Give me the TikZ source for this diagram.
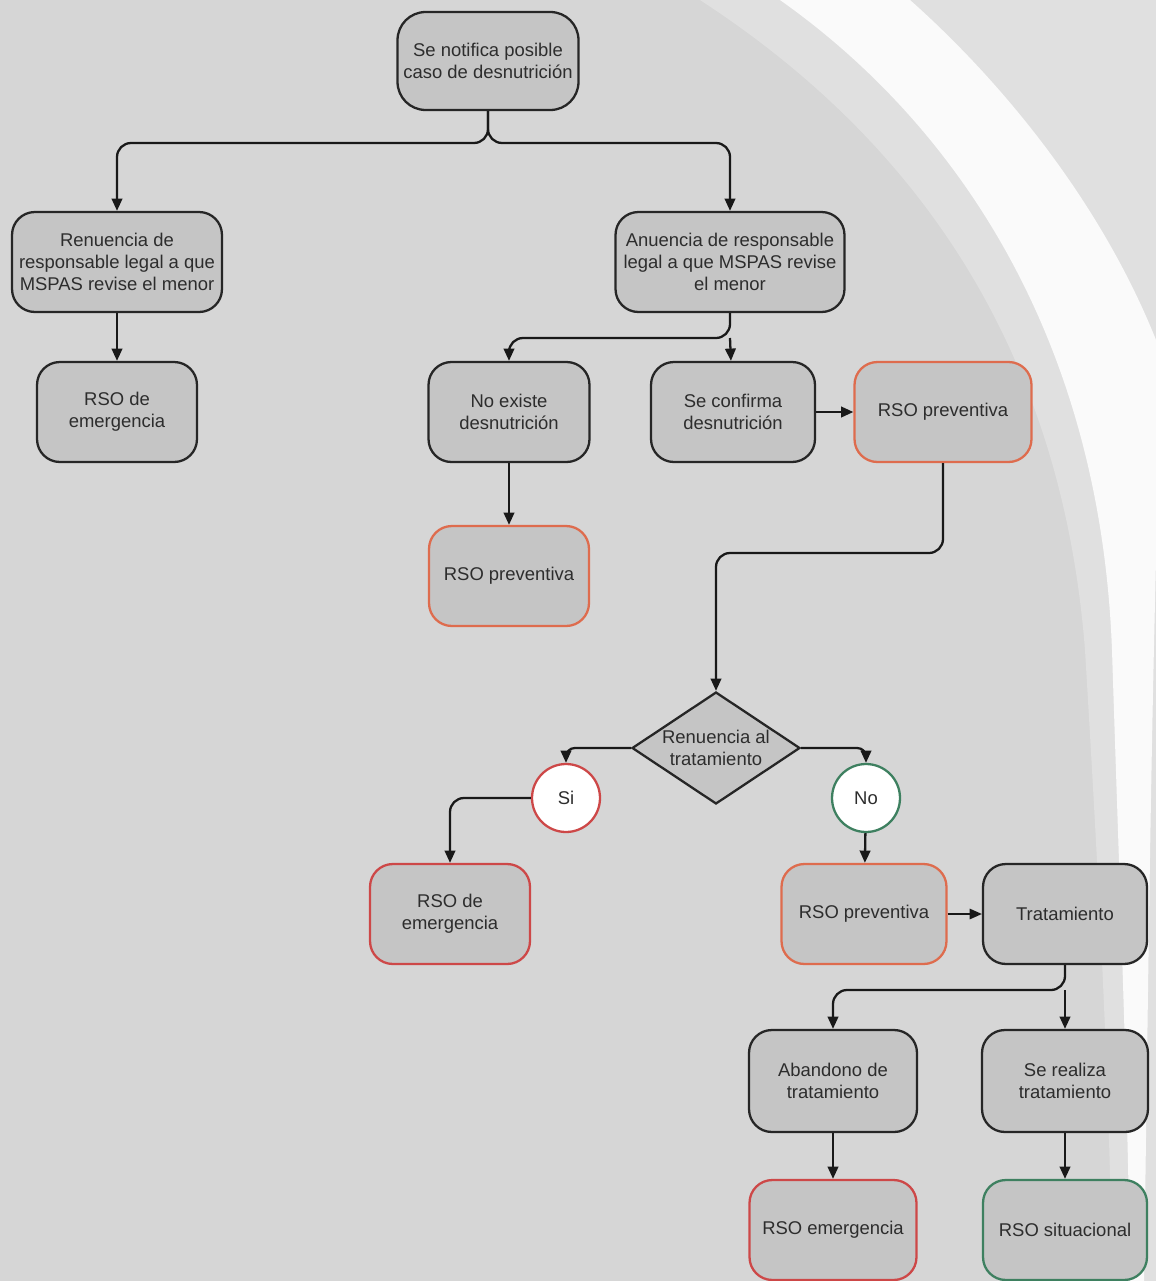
\documentclass[tikz,border=0pt]{standalone}
\usepackage{fontspec}
\setmainfont{Liberation Sans}
\usetikzlibrary{shapes.geometric,arrows.meta}

\definecolor{paper}{RGB}{214,214,214}
\definecolor{boxgray}{RGB}{197,197,197}
\definecolor{emred}{RGB}{205,72,72}
\definecolor{prevred}{RGB}{222,108,78}
\definecolor{sitgreen}{RGB}{62,128,96}
\definecolor{ink}{RGB}{45,45,45}

\tikzset{
  box/.style={draw=black!85, fill=boxgray, rounded corners=13pt, line width=1.3pt,
    align=center, text=ink, inner sep=2pt, minimum height=2cm,
    font=\fontsize{10.5}{12.3}\selectfont},
  prevbox/.style={box, draw=prevred},
  emerbox/.style={box, draw=emred},
  situbox/.style={box, draw=sitgreen},
  decision/.style={diamond, draw=black!85, fill=boxgray, line width=1.3pt, aspect=1.5,
    inner sep=-2pt, minimum width=3.36cm, minimum height=2.24cm, align=center,
    text=ink, font=\fontsize{10.5}{12.3}\selectfont},
  answer/.style={circle, fill=white, line width=1.3pt, minimum size=1.36cm,
    inner sep=0pt, text=ink, font=\fontsize{10.5}{12.3}\selectfont},
  flow/.style={->, line width=1.3pt, black!90, rounded corners=8pt},
  >={Triangle[length=7pt,width=6pt]}
}

\begin{document}
\begin{tikzpicture}[x=0.02cm, y=-0.02cm]
            % Paper
            \fill[paper] (0,0) rectangle (1156,1281);
            \fill[white, opacity=0.25] (700,0) .. controls (900,130) and (1060,330) .. (1085,650) .. controls (1100,900) and (1110,1100) .. (1112,1281) -- (1156,1281) -- (1156,0) -- cycle;
            \fill[white, opacity=0.85] (780,0) .. controls (950,120) and (1100,330) .. (1112,650) .. controls (1120,900) and (1128,1100) .. (1130,1281) -- (1144,1281) .. controls (1148,1000) and (1150,800) .. (1156,560) -- (1156,340) .. controls (1100,200) and (1000,80) .. (910,0) -- cycle;
            \useasboundingbox (0,0) rectangle (1156,1281);

            % Start
            \node[box, minimum width=3.62cm, minimum height=1.96cm, rounded corners=16pt] (notif) at (488,61) {Se notifica posible\\caso de desnutrición};

            % Responsable legal
            \node[box, minimum width=4.2cm] (renun) at (117,262) {Renuencia de\\responsable legal a que\\MSPAS revise el menor};
            \node[box, minimum width=3.2cm] (emer1) at (117,412) {RSO de\\emergencia};
            \node[box, minimum width=4.58cm] (anuen) at (730,262) {Anuencia de responsable\\legal a que MSPAS revise\\el menor};

            % Evaluacion
            \node[box, minimum width=3.22cm] (noexi) at (509,412) {No existe\\desnutrición};
            \node[box, minimum width=3.28cm] (confi) at (733,412) {Se confirma\\desnutrición};
            \node[prevbox, minimum width=3.54cm] (prev1) at (943,412) {RSO preventiva};
            \node[prevbox, minimum width=3.2cm] (prev2) at (509,576) {RSO preventiva};

            % Tratamiento
            \node[decision] (renuntr) at (716,748) {Renuencia al\\tratamiento};
            \node[answer, draw=emred] (si) at (566,798) {Si};
            \node[answer, draw=sitgreen] (no) at (866,798) {No};
            \node[emerbox, minimum width=3.2cm] (emer2) at (450,914) {RSO de\\emergencia};
            \node[prevbox, minimum width=3.3cm] (prev3) at (864,914) {RSO preventiva};
            \node[box, minimum width=3.28cm] (trata) at (1065,914) {Tratamiento};
            \node[box, minimum width=3.36cm, minimum height=2.04cm] (aband) at (833,1081) {Abandono de\\tratamiento};
            \node[box, minimum width=3.32cm, minimum height=2.04cm] (reali) at (1065,1081) {Se realiza\\tratamiento};
            \node[emerbox, minimum width=3.34cm] (emer3) at (833,1230) {RSO emergencia};
            \node[situbox, minimum width=3.28cm] (situa) at (1065,1230) {RSO situacional};

            % Split points
            \coordinate (s1) at (488,143);
            \coordinate (s2) at (730,338);
            \coordinate (s3) at (943,553);
            \coordinate (s4) at (1065,990);

            % Connectors
            \draw[flow] (notif) -- (s1) -| (renun);
            \draw[flow] (notif) -- (s1) -| (anuen);
            \draw[flow] (renun) -- (emer1);
            \draw[flow] (anuen) -- (s2) -| (noexi);
            \draw[flow] (s2) -- (confi);
            \draw[flow] (confi) -- (prev1);
            \draw[flow] (noexi) -- (prev2);
            \draw[flow] (prev1) -- (s3) -| (renuntr);
            \draw[flow, rounded corners=5pt] (renuntr.west) -| (si);
            \draw[flow, rounded corners=5pt] (renuntr.east) -| (no);
            \draw[flow] (si) -| (emer2);
            \draw[flow] (no) -- (prev3);
            \draw[flow, line width=0.8pt] (prev3) -- (trata);
            \draw[flow] (trata) -- (s4) -| (aband);
            \draw[flow] (s4) -- (reali);
            \draw[flow] (aband) -- (emer3);
            \draw[flow] (reali) -- (situa);

\end{tikzpicture}
\end{document}
